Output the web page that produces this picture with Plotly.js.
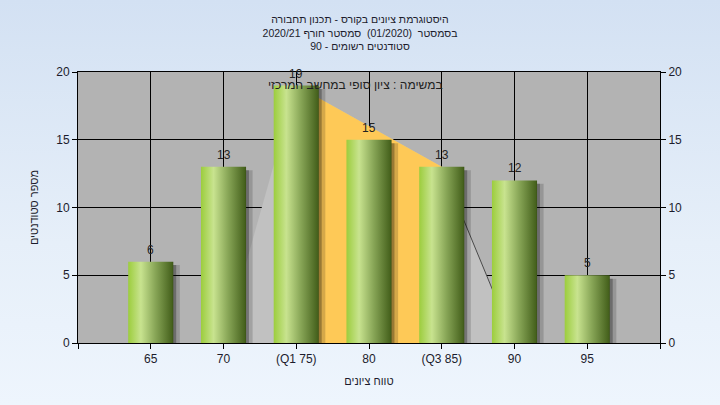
<!DOCTYPE html>
<html>
<head>
<meta charset="utf-8">
<script src="https://cdn.plot.ly/plotly-3.0.1.min.js"></script>
<style>
html,body{margin:0;padding:0;width:720px;height:405px;overflow:hidden;
background:linear-gradient(to bottom,#d3e1f3 0%,#e6eff9 60%,#eef5fd 100%);}
#chart{width:720px;height:405px;}
</style>
</head>
<body>
<div id="chart"></div>
<script>
// ---- data ----
const gradeBins = [65, 70, 75, 80, 85, 90, 95];
const binLabels = ['65', '70', '(Q1 75)', '80', '(Q3 85)', '90', '95'];
const studentCounts = [6, 13, 19, 15, 13, 12, 5];
const axisTicks = [60, 65, 70, 75, 80, 85, 90, 95, 100];
const axisTickText = ['', '65', '70', '(Q1 75)', '80', '(Q3 85)', '90', '95', ''];
const quartileX = [75, 85];
const quartileY = [19, 13];
const outlineX = [70, 75, 85, 90];
const outlineY = [0, 19, 13, 0];
const titleLines = ['היסטוגרמת ציונים בקורס - תכנון תחבורה',
                    'בסמסטר  (01/2020)  סמסטר חורף 2020/21',
                    'סטודנטים רשומים - 90'];
const noteText = 'במשימה : ציון סופי במחשב המרכזי';
const xTitle = 'טווח ציונים';
const yTitle = 'מספר סטודנטים';

// ---- styles ----
const FONT = 'Liberation Sans, DejaVu Sans, Arial, sans-serif';
const TXT = '#1c1c2c';
const halfW = 1.55;
const barScale = [[0, '#9ccd3d'], [0.28, '#c8e38f'], [0.6, '#88a657'], [0.97, '#46621d'], [1, '#3a5216']];

const traces = [];
// light grey outline polygon
traces.push({x: outlineX, y: outlineY, type: 'scatter', mode: 'none', fill: 'toself',
  fillcolor: '#c1c1c1', hoverinfo: 'skip'});
// right edge line of outline
traces.push({x: outlineX.slice(2), y: outlineY.slice(2), type: 'scatter', mode: 'lines',
  line: {color: '#4a4a4a', width: 1}, hoverinfo: 'skip'});
// interquartile area
traces.push({x: quartileX, y: quartileY, type: 'scatter', mode: 'none', fill: 'tozeroy',
  fillcolor: '#fec957', hoverinfo: 'skip'});
// shadows
gradeBins.forEach((c, i) => {
  const v = studentCounts[i];
  [[0.2, 'rgba(0,0,0,0.28)'], [0.45, 'rgba(0,0,0,0.16)']].forEach(([d, col]) => {
    traces.push({x: [c - halfW + d, c - halfW + d, c + halfW + d, c + halfW + d],
      y: [0, v - 0.25, v - 0.25, 0], type: 'scatter', mode: 'none', fill: 'toself',
      fillcolor: col, hoverinfo: 'skip'});
  });
});
// bars (gradient cylinders)
gradeBins.forEach((c, i) => {
  const v = studentCounts[i];
  traces.push({x: [c - halfW, c - halfW, c + halfW, c + halfW], y: [0, v, v, 0],
    type: 'scatter', mode: 'none', fill: 'toself',
    fillgradient: {type: 'horizontal', colorscale: barScale}, hoverinfo: 'skip'});
});
// right axis carrier
traces.push({x: gradeBins, y: studentCounts, yaxis: 'y2', type: 'scatter', mode: 'markers',
  marker: {opacity: 0}, hoverinfo: 'skip'});

const valueLabels = gradeBins.map((c, i) => ({
  x: c, y: studentCounts[i], xref: 'x', yref: 'y', text: String(studentCounts[i]),
  showarrow: false, yanchor: 'bottom', yshift: 3,
  font: {family: FONT, size: 12, color: '#222'}
}));

const layout = {
  width: 720, height: 405,
  margin: {l: 78, r: 60, t: 72, b: 62},
  paper_bgcolor: 'rgba(0,0,0,0)',
  plot_bgcolor: '#b3b3b3',
  showlegend: false,
  hovermode: false,
  font: {family: FONT, color: TXT},
  title: {text: titleLines.join('<br>'), x: 0.5, xref: 'container', y: 0.943, yref: 'container',
    yanchor: 'top', font: {family: FONT, size: 10.5, color: TXT}},
  xaxis: {range: [60, 100], tickvals: axisTicks, ticktext: axisTickText, ticks: 'outside',
    ticklen: 5, tickcolor: '#000', showline: true, linecolor: '#000', mirror: true,
    showgrid: true, gridcolor: '#000', gridwidth: 1, zeroline: false,
    tickfont: {family: FONT, size: 12, color: TXT},
    title: {text: xTitle, font: {family: FONT, size: 11, color: TXT}, standoff: 11}},
  yaxis: {range: [0, 20], dtick: 5, ticks: 'outside', ticklen: 5, tickcolor: '#000',
    showline: true, linecolor: '#000', mirror: true, showgrid: true, gridcolor: '#000',
    zeroline: false, tickfont: {family: FONT, size: 12, color: TXT},
    title: {text: yTitle, font: {family: FONT, size: 11, color: TXT}, standoff: 15}},
  yaxis2: {range: [0, 20], dtick: 5, overlaying: 'y', side: 'right', ticks: 'outside',
    ticklen: 5, tickcolor: '#000', showline: true, linecolor: '#000', showgrid: false,
    zeroline: false, tickfont: {family: FONT, size: 12, color: TXT}},
  annotations: [{text: noteText, xref: 'paper', yref: 'paper', x: 0.476, y: 0.985,
    showarrow: false, font: {family: FONT, size: 12, color: '#222'}}].concat(valueLabels)
};

Plotly.newPlot('chart', traces, layout, {displayModeBar: false, staticPlot: true});
</script>
</body>
</html>
